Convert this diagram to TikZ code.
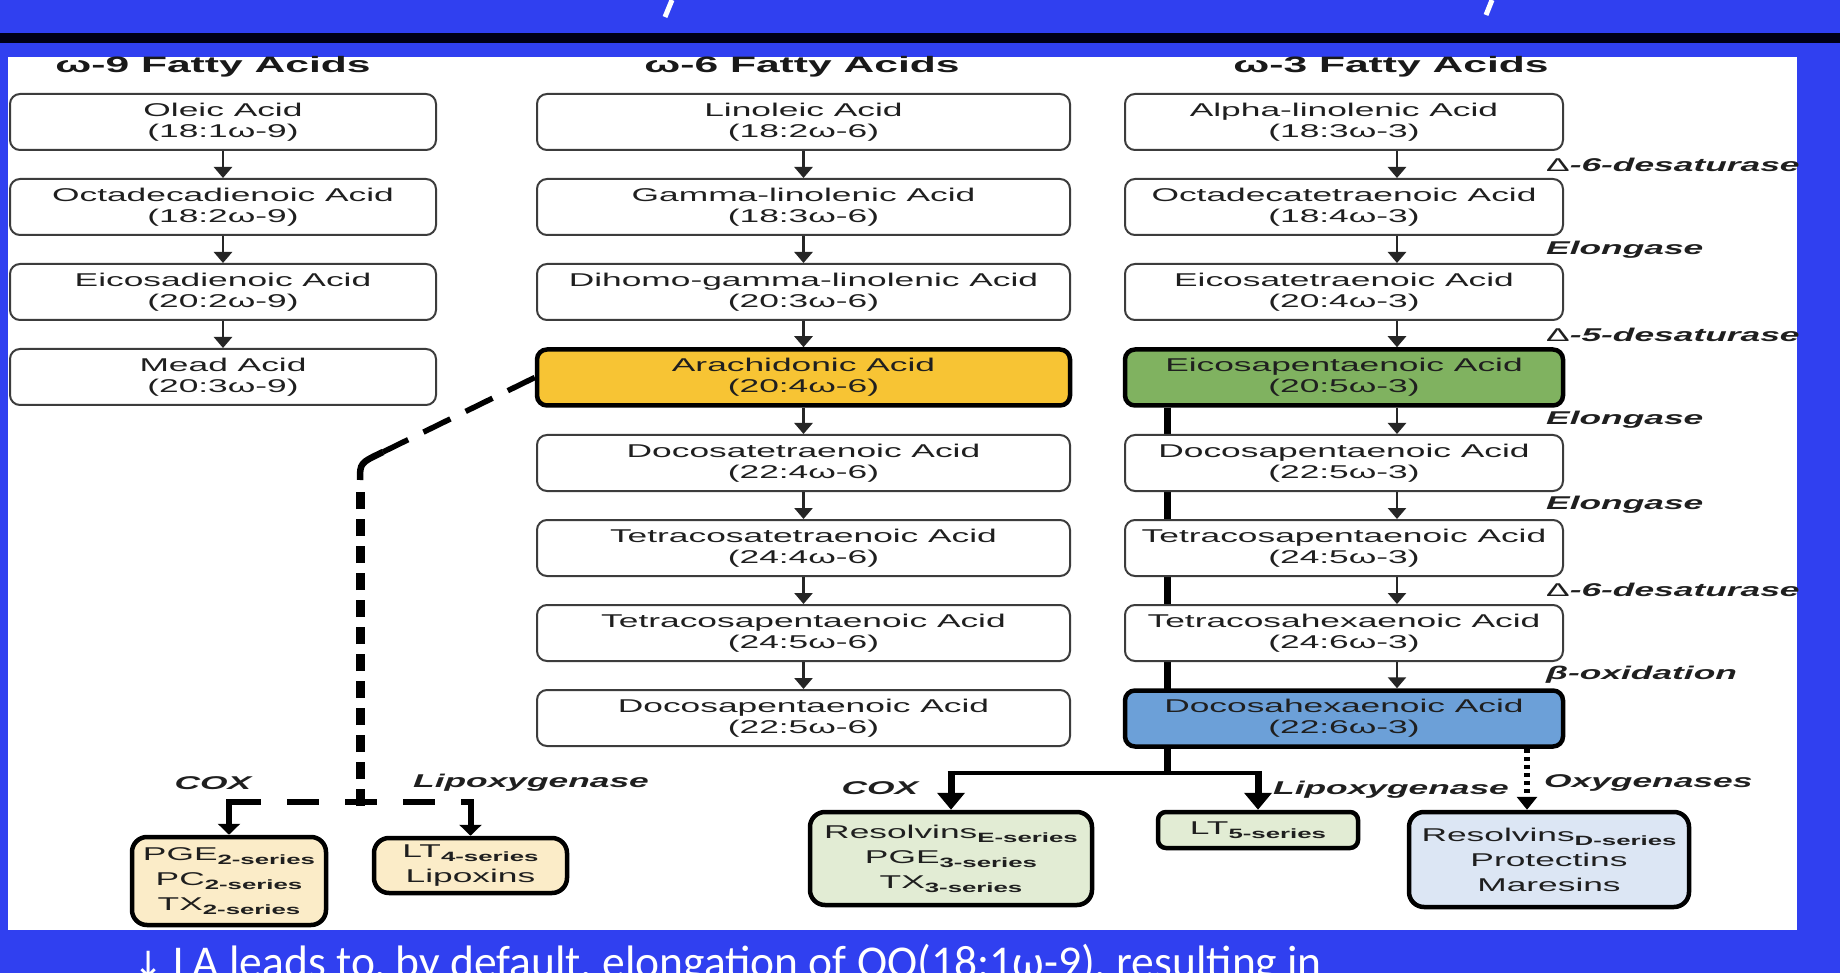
\documentclass[tikz,border=0pt]{standalone}
\usepackage{fontspec}
\setmainfont{Liberation Sans}[FakeStretch=1.91]
\newfontfamily\slidefont{Carlito}
\newfontfamily\symfont{DejaVu Sans}
\usetikzlibrary{arrows.meta}
\pgfdeclarelayer{back}
\pgfdeclarelayer{mid}
\pgfsetlayers{back,mid,main}
\definecolor{slideblue}{RGB}{48,64,240}
\definecolor{aayellow}{RGB}{247,196,52}
\definecolor{epagreen}{RGB}{128,178,96}
\definecolor{dhablue}{RGB}{108,160,216}
\definecolor{prodtan}{RGB}{251,236,200}
\definecolor{prodgreen}{RGB}{226,236,212}
\definecolor{prodblue}{RGB}{220,230,244}
\definecolor{boxline}{RGB}{60,60,60}
\newcommand\boxsize{\fontsize{18.5}{21}\selectfont}
\newcommand\subs[1]{\raisebox{-4pt}{\fontsize{13.5}{14}\selectfont\bfseries #1}}
\newcommand\tri{{\mdseries\upshape Δ}}
\tikzset{
  acid/.style={draw=boxline, line width=2pt, rounded corners=10pt, fill=white,
    minimum height=56pt, inner sep=0pt, align=center, font=\boxsize, text=black!88},
  colone/.style={acid, minimum width=426pt},
  coltwo/.style={acid, minimum width=533pt},
  colthree/.style={acid, minimum width=438pt},
  keyacid/.style={draw=black, line width=4.5pt},
  prod/.style={draw=black, line width=4.5pt, rounded corners=15pt, inner sep=0pt,
    align=center, font=\fontsize{18.5}{25}\selectfont, text=black!88},
  hdr/.style={font=\fontsize{22.3}{24}\selectfont\bfseries, text=black!90, anchor=base},
  enz/.style={font=\boxsize\bfseries\itshape, anchor=west, text=black!88, inner sep=0pt},
  enzlab/.style={font=\boxsize\bfseries\itshape, text=black!88, inner sep=0pt},
  flow/.style={line width=2.6pt, draw=black!85, -{Triangle[width=18pt,length=11pt]}},
  bigflow/.style={line width=7pt, -{Triangle[width=27pt,length=17pt]}},
  dropflow/.style={line width=6pt, -{Triangle[width=22pt,length=11pt]}},
  hbar/.style={line width=4.5pt},
  vbar/.style={line width=7pt},
  dashdiag/.style={line width=5.5pt, dash pattern=on 30pt off 17pt},
  dashvert/.style={line width=9pt, dash pattern=on 17pt off 10pt},
  dashhor/.style={line width=5.5pt, dash pattern=on 32pt off 26pt},
  dashbend/.style={line width=6.5pt},
  dotflow/.style={line width=6pt, dash pattern=on 4pt off 4pt, -{Triangle[width=20pt,length=13pt]}},
}
\begin{document}
\begin{tikzpicture}[x=1pt,y=-1pt]
\useasboundingbox (0,0) rectangle (1840,973);
\begin{pgfonlayer}{back}
  \fill[slideblue] (0,0) rectangle (1840,973);
  \fill[black!92!blue] (0,33) rectangle (1840,43);
  \fill[white] (8,57) rectangle (1797,930);
  \draw[white, line width=5pt] (672,0) -- (665,17);
  \draw[white, line width=5pt] (1492,0) -- (1486,15);
\end{pgfonlayer}

% headers
\node[hdr] (h9) at (213,73) {ω-9 Fatty Acids};
\node[hdr] (h6) at (802,73) {ω-6 Fatty Acids};
\node[hdr] (h3) at (1391,73) {ω-3 Fatty Acids};

% omega-9 column
\node[colone] (oa) at (223,122) {Oleic Acid\\(18:1ω-9)};
\node[colone] (od) at (223,207) {Octadecadienoic Acid\\(18:2ω-9)};
\node[colone] (ed) at (223,292) {Eicosadienoic Acid\\(20:2ω-9)};
\node[colone] (ma) at (223,377) {Mead Acid\\(20:3ω-9)};

% omega-6 column
\node[coltwo] (la) at (803.5,122) {Linoleic Acid\\(18:2ω-6)};
\node[coltwo] (gla) at (803.5,207) {Gamma-linolenic Acid\\(18:3ω-6)};
\node[coltwo] (dgla) at (803.5,292) {Dihomo-gamma-linolenic Acid\\(20:3ω-6)};
\node[coltwo, keyacid, fill=aayellow] (aa) at (803.5,377.5) {Arachidonic Acid\\(20:4ω-6)};
\node[coltwo] (dta) at (803.5,463) {Docosatetraenoic Acid\\(22:4ω-6)};
\node[coltwo] (tta) at (803.5,548) {Tetracosatetraenoic Acid\\(24:4ω-6)};
\node[coltwo] (tpa6) at (803.5,633) {Tetracosapentaenoic Acid\\(24:5ω-6)};
\node[coltwo] (dpa6) at (803.5,718) {Docosapentaenoic Acid\\(22:5ω-6)};

% omega-3 column
\node[colthree] (ala) at (1344,122) {Alpha-linolenic Acid\\(18:3ω-3)};
\node[colthree] (sda) at (1344,207) {Octadecatetraenoic Acid\\(18:4ω-3)};
\node[colthree] (eta) at (1344,292) {Eicosatetraenoic Acid\\(20:4ω-3)};
\node[colthree, keyacid, fill=epagreen] (epa) at (1344,377.5) {Eicosapentaenoic Acid\\(20:5ω-3)};
\node[colthree] (dpa3) at (1344,463) {Docosapentaenoic Acid\\(22:5ω-3)};
\node[colthree] (tpa3) at (1344,548) {Tetracosapentaenoic Acid\\(24:5ω-3)};
\node[colthree] (tha) at (1344,633) {Tetracosahexaenoic Acid\\(24:6ω-3)};
\node[colthree, keyacid, fill=dhablue] (dha) at (1344,718.5) {Docosahexaenoic Acid\\(22:6ω-3)};

% enzymes
\node[enz] (e1) at (1546,165) {\tri-6-desaturase};
\node[enz] (e2) at (1546,250) {Elongase};
\node[enz] (e3) at (1546,335) {\tri-5-desaturase};
\node[enz] (e4) at (1546,420) {Elongase};
\node[enz] (e5) at (1546,505) {Elongase};
\node[enz] (e6) at (1546,590) {\tri-6-desaturase};
\node[enz] (e7) at (1546,675) {β-oxidation};

% products
\node[prod, fill=prodtan, minimum width=194pt, minimum height=88pt] (pge) at (229,881)
  {PGE\subs{2-series}\\PC\subs{2-series}\\TX\subs{2-series}};
\node[prod, fill=prodtan, minimum width=193pt, minimum height=55pt] (lt4) at (470.5,865.5)
  {LT\subs{4-series}\\Lipoxins};
\node[prod, fill=prodgreen, minimum width=282pt, minimum height=93pt] (rese) at (951,858.5)
  {Resolvins\subs{E-series}\\PGE\subs{3-series}\\TX\subs{3-series}};
\node[prod, fill=prodgreen, minimum width=200pt, minimum height=36pt, rounded corners=8pt] (lt5) at (1258,830)
  {LT\subs{5-series}};
\node[prod, fill=prodblue, minimum width=280pt, minimum height=95pt] (resd) at (1549,859.5)
  {Resolvins\subs{D-series}\\Protectins\\Maresins};

% pathway labels
\node[enzlab] (coxl) at (213,783) {COX};
\node[enzlab, anchor=west] (lipl) at (413,783) {Lipoxygenase};
\node[enzlab] (coxr) at (880,788) {COX};
\node[enzlab, anchor=west] (lipr) at (1273,790) {Lipoxygenase};
\node[enzlab, anchor=west] (oxy) at (1544,783) {Oxygenases};

% column arrows
\draw[flow] (oa) -- (od);
\draw[flow] (od) -- (ed);
\draw[flow] (ed) -- (ma);
\draw[flow] (la) -- (gla);
\draw[flow] (gla) -- (dgla);
\draw[flow] (dgla) -- (aa);
\draw[flow] (aa) -- (dta);
\draw[flow] (dta) -- (tta);
\draw[flow] (tta) -- (tpa6);
\draw[flow] (tpa6) -- (dpa6);
\draw[flow] ([xshift=53pt]ala.south) -- ([xshift=53pt]sda.north);
\draw[flow] ([xshift=53pt]sda.south) -- ([xshift=53pt]eta.north);
\draw[flow] ([xshift=53pt]eta.south) -- ([xshift=53pt]epa.north);
\draw[flow] ([xshift=53pt]epa.south) -- ([xshift=53pt]dpa3.north);
\draw[flow] ([xshift=53pt]dpa3.south) -- ([xshift=53pt]tpa3.north);
\draw[flow] ([xshift=53pt]tpa3.south) -- ([xshift=53pt]tha.north);
\draw[flow] ([xshift=53pt]tha.south) -- ([xshift=53pt]dha.north);

% arachidonic acid branch (dashed)
\coordinate (dcorner) at (360,463);
\coordinate (djoin) at (360,802);
\coordinate (dbendA) at (383,452);
\coordinate (dbendB) at (360,480);
\draw[dashdiag] (aa.west) -- (dbendA);
\draw[dashbend] (dbendA) .. controls (dcorner) .. (dbendB);
\draw[dashvert] ([yshift=-4pt]djoin) -- ([yshift=-10pt]dbendB);
\draw[dashhor] (pge.north |- djoin) -- (lt4.north |- djoin);
\draw[dropflow] ([yshift=2.75pt]pge.north |- djoin) -- (pge.north);
\draw[dropflow] ([yshift=2.75pt]lt4.north |- djoin) -- (lt4.north);

% EPA / DHA branch (solid)
\coordinate (br) at (1167,773);
\begin{pgfonlayer}{mid}
  \draw[vbar] (br |- epa.south) -- ([yshift=-2.25pt]br);
\end{pgfonlayer}
\draw[hbar] ([xshift=-3.5pt]rese.north |- br) -- ([xshift=3.5pt]lt5.north |- br);
\draw[bigflow] ([yshift=2.25pt]rese.north |- br) -- (rese.north);
\draw[bigflow] ([yshift=2.25pt]lt5.north |- br) -- (lt5.north);
\coordinate (ox) at (1527,0);
\draw[dotflow] (dha.south -| ox) -- (resd.north -| ox);

% slide text (cut by the frame, as in the reference)
\node[anchor=base west, inner sep=0pt, text=white, font=\slidefont\fontsize{45.5}{48}\selectfont] (note) at (133,977)
  {{\symfont\fontsize{36}{40}\selectfont ↓} LA leads to, by default, elongation of OO(18:1ω-9), resulting in};
\end{tikzpicture}
\end{document}
